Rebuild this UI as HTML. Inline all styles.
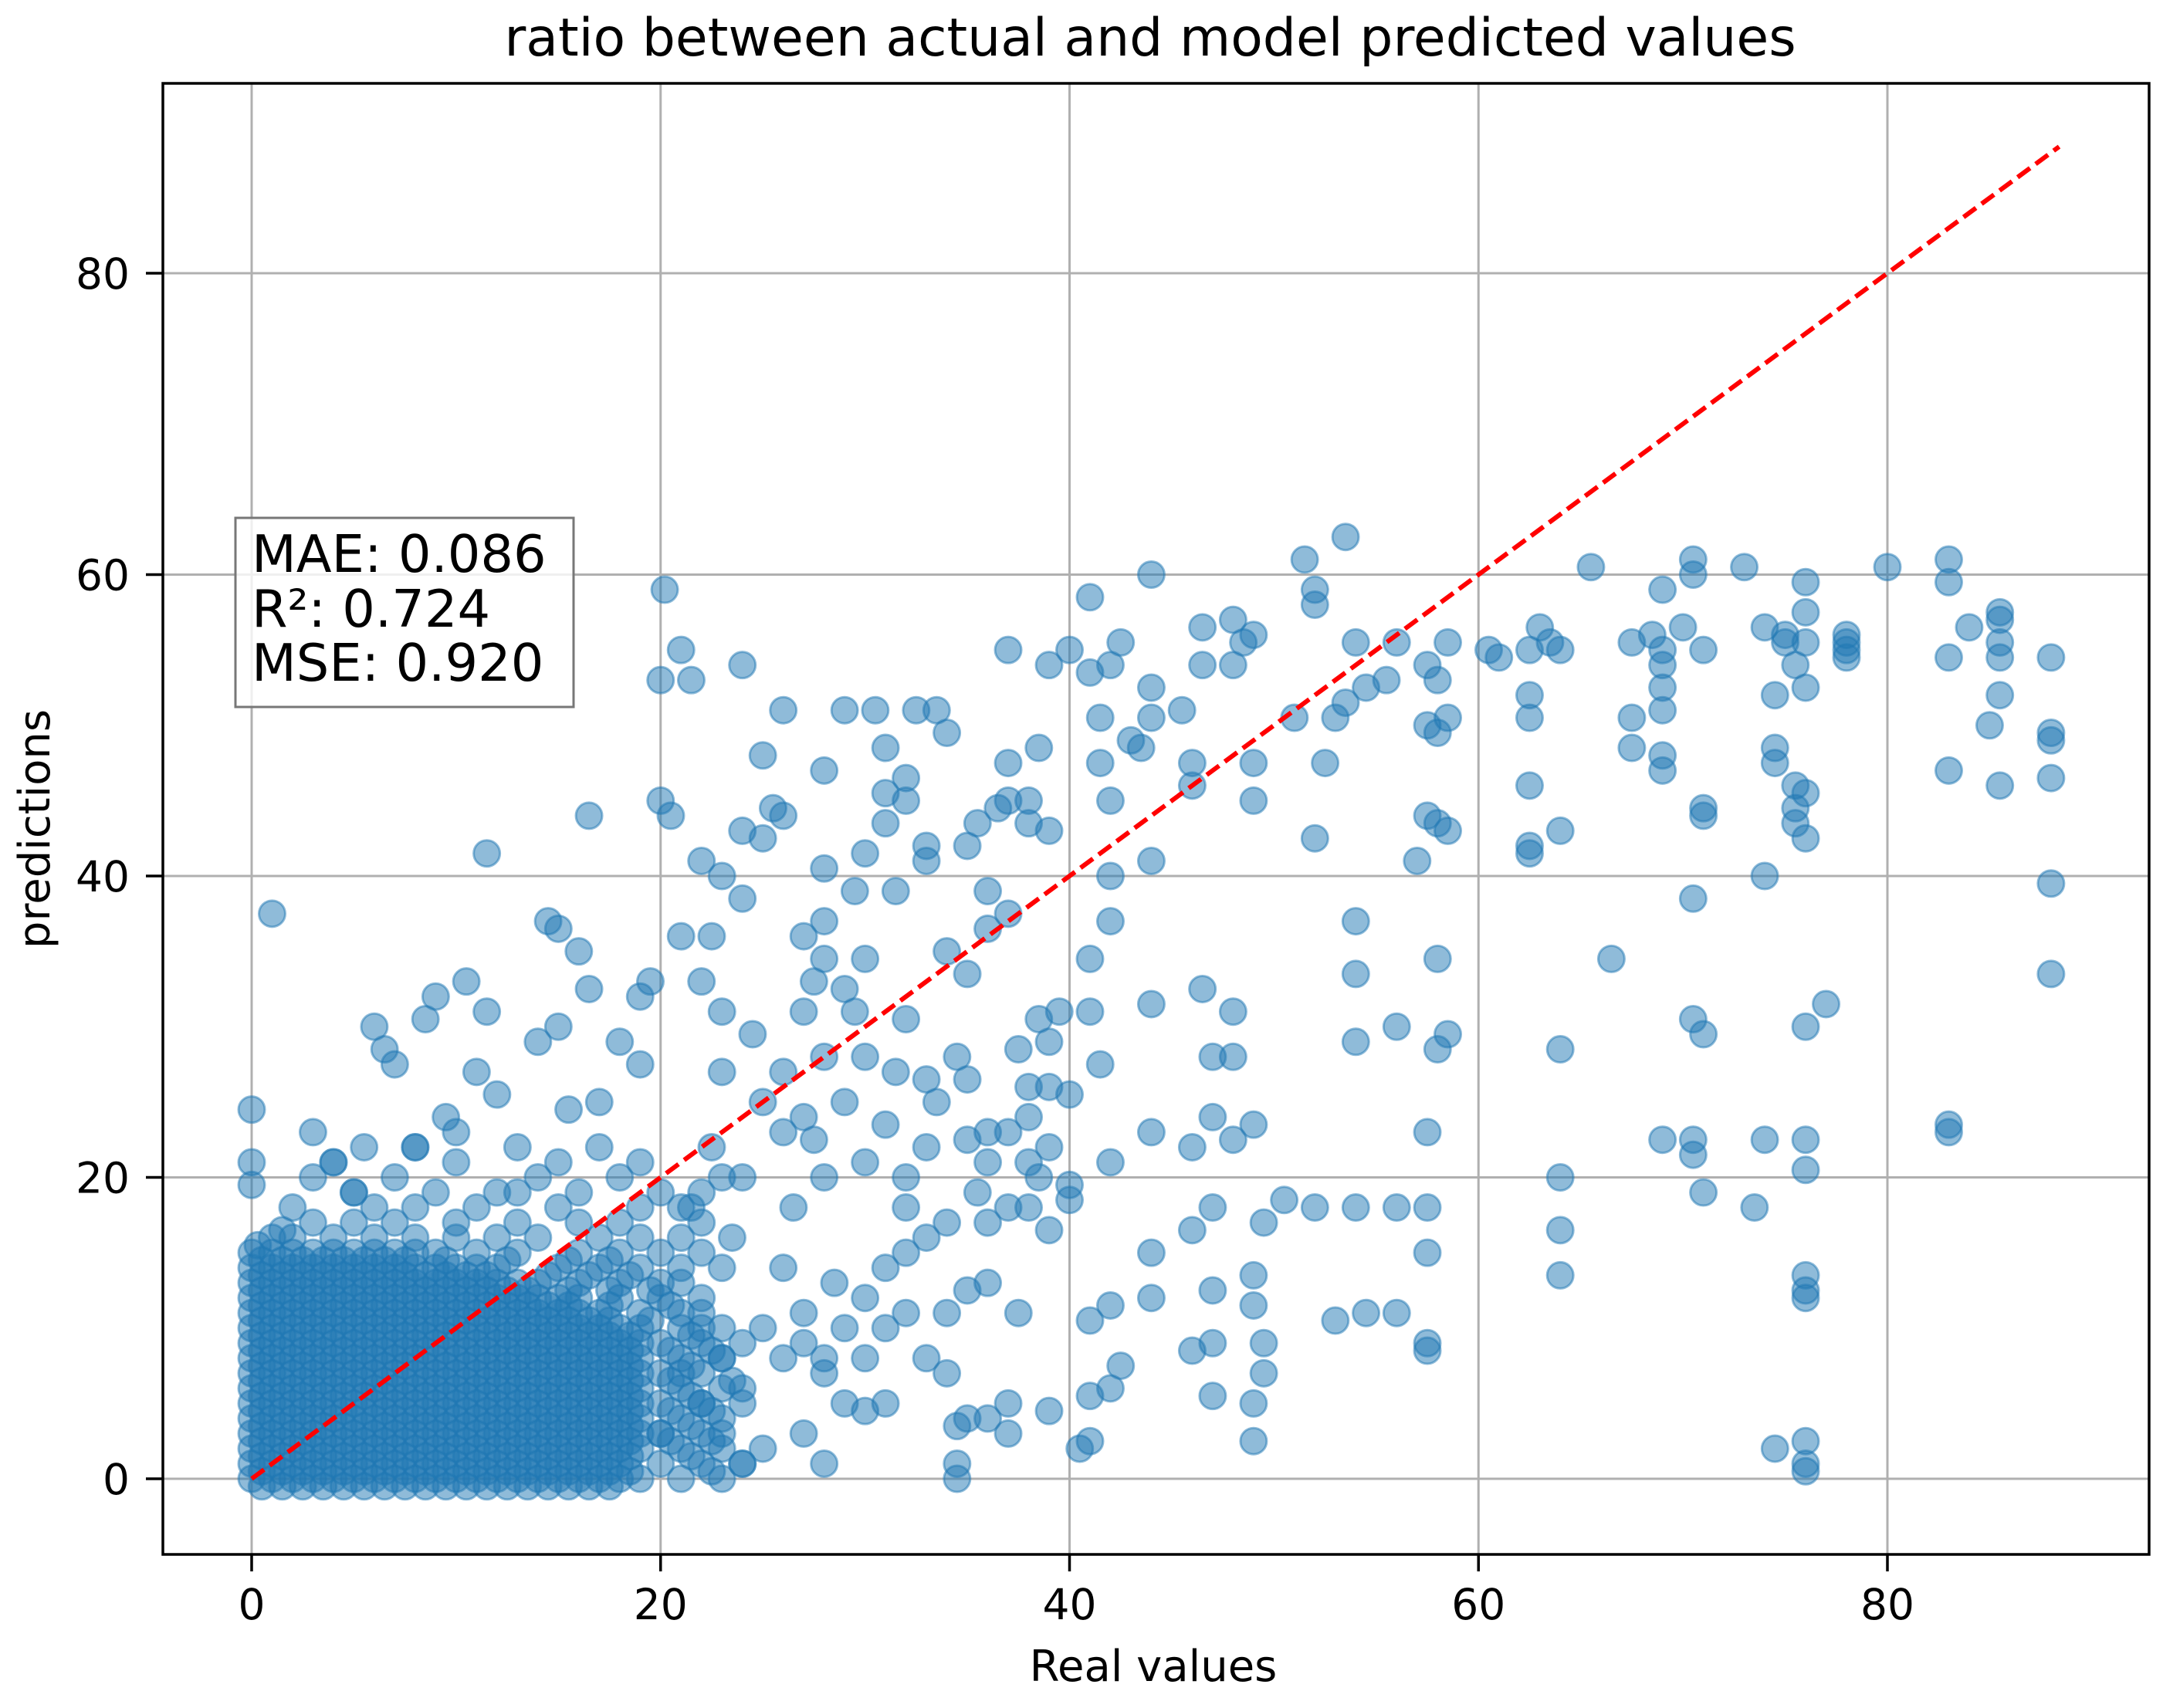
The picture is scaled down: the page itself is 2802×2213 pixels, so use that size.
<!DOCTYPE html>
<html><head><meta charset="utf-8"><style>
html,body{margin:0;padding:0;background:#fff;}
svg{display:block;font-family:"DejaVu Sans","Liberation Sans",sans-serif;}
</style></head><body>
<svg id="chart" width="2802" height="2213" viewBox="0 0 2802 2213" xmlns="http://www.w3.org/2000/svg">
<rect width="2802" height="2213" fill="#fff"/>
<g id="grid"></g>
<g id="pts"></g>
<g id="ref"></g>
<rect x="211" y="108" width="2573" height="1906" fill="none" stroke="#000" stroke-width="3.5"/>
<g id="ticks"></g>
<text x="1490" y="72" font-size="68" text-anchor="middle">ratio between actual and model predicted values</text>
<text x="1494" y="2178" font-size="56" text-anchor="middle">Real values</text>
<text x="64" y="1074" font-size="56" text-anchor="middle" transform="rotate(-90 64 1074)">predictions</text>
<g>
<rect x="305" y="671" width="438" height="245" fill="#fff" fill-opacity="0.8" stroke="#777" stroke-width="3"/>
<text x="326" y="741" font-size="67">MAE: 0.086</text>
<text x="326" y="812" font-size="67">R²: 0.724</text>
<text x="326" y="882" font-size="67">MSE: 0.920</text>
</g>
</svg>
<script>
const xTicks=[0,20,40,60,80];
const yTicks=[0,20,40,60,80];
const refLine=[0,88.4];
const outliers=[[0,24.5],[0,21],[0,19.5],[1,37.5],[0.3,15.5],[1.5,16.5],[3,23],[4,21],[5,19],[5.5,22],[6,30],[6.5,28.5],[7,27.5],[8,22],[8.5,30.5],[9,32],[9.5,24],[10,23],[10.5,33],[11,27],[11.5,41.5],[11.5,31],[12,25.5],[13,19],[14,29],[14.5,37],[15,36.5],[15,30],[15.5,24.5],[16,35],[16.5,44],[16.5,32.5],[17,25],[18,29],[19,27.5],[19,32],[19.5,33],[20,45],[20.2,59],[20,53],[20.5,44],[21,55],[21,36],[21.5,53],[22,41],[22,33],[22.5,36],[23,40],[23,31],[23,27],[24,54],[24,43],[24,38.5],[24.5,29.5],[25,48],[25,42.5],[25.5,44.5],[26,44],[26,23],[26,51],[27,31],[27,36],[27.5,33],[28,47],[28,37],[28,34.5],[28,28],[28,40.5],[29,51],[29,32.5],[29.5,39],[29.5,31],[30,41.5],[30,34.5],[30.5,51],[31,48.5],[31,45.5],[31,43.5],[31.5,39],[32,46.5],[32,45],[32,30.5],[32.5,51],[33,42],[33,41],[33,26.5],[33.5,51],[34,49.5],[34,35],[34.5,28],[35,33.5],[35,26.5],[35,42],[35.5,43.5],[36,39],[36,36.5],[36.5,44.5],[37,47.5],[37,45],[37,55],[37,37.5],[37.5,28.5],[38,43.5],[38,45],[38,24],[38.5,48.5],[38.5,30.5],[38.5,20],[39,43],[39,54],[39,29],[39,26],[39,16.5],[39.5,31],[40,55],[40,25.5],[40,19.5],[41,58.5],[41,53.5],[41,34.5],[41,31],[41.5,50.5],[41.5,47.5],[41.5,27.5],[42,54],[42,45],[42,40],[42,37],[42,21],[42.5,55.5],[43,49],[43.5,48.5],[44,60],[44,52.5],[44,50.5],[44,41],[44,31.5],[44,23],[44,15],[44,12],[45.5,51],[46,46],[46,47.5],[46,22],[46,16.5],[46,8.5],[46.5,54],[46.5,56.5],[46.5,32.5],[47,28],[47,24],[47,18],[47,12.5],[47,9],[47,5.5],[48,57],[48,54],[48,31],[48,28],[48,22.5],[48.5,55.5],[49,56],[49,47.5],[49,45],[49,23.5],[49,13.5],[49,11.5],[49,5],[49,2.5],[49.5,9],[49.5,7],[49.5,17],[50.5,18.5],[51,50.5],[51.5,61],[52,59],[52,58],[52,42.5],[52,18],[52.5,47.5],[53,50.5],[53,10.5],[53.5,62.5],[53.5,51.5],[54,55.5],[54,37],[54,33.5],[54,29],[54,18],[54.5,52.5],[54.5,11],[55.5,53],[56,55.5],[56,30],[56,18],[56,11],[57,41],[57.5,50],[57.5,54],[57.5,44],[57.5,23],[57.5,18],[57.5,15],[57.5,9],[57.5,8.5],[58,53],[58,49.5],[58,43.5],[58,34.5],[58,28.5],[58.5,55.5],[58.5,50.5],[58.5,43],[58.5,29.5],[60.5,55],[61,54.5],[62.5,55],[62.5,52],[62.5,50.5],[62.5,46],[62.5,42],[62.5,41.5],[63,56.5],[63.5,55.5],[64,55],[64,43],[64,28.5],[64,20],[64,16.5],[64,13.5],[65.5,60.5],[66.5,34.5],[67.5,55.5],[67.5,50.5],[67.5,48.5],[68.5,56],[69,59],[69,55],[69,54],[69,52.5],[69,51],[69,48],[69,47],[69,22.5],[70,56.5],[70.5,61],[70.5,60],[70.5,38.5],[70.5,30.5],[70.5,22.5],[70.5,21.5],[71,55],[71,44.5],[71,44],[71,29.5],[71,19],[73,60.5],[73.5,18],[74,56.5],[74,40],[74,22.5],[74.5,48.5],[74.5,47.5],[74.5,52],[74.5,2],[75,55.5],[75,56],[75.5,54],[75.5,46],[75.5,44.5],[75.5,43.5],[76,59.5],[76,57.5],[76,55.5],[76,52.5],[76,45.5],[76,42.5],[76,30],[76,22.5],[76,20.5],[76,13.5],[76,12.5],[76,12],[76,2.5],[76,1],[76,0.5],[77,31.5],[78,56],[78,55.5],[78,55],[78,54.5],[80,60.5],[83,61],[83,59.5],[83,54.5],[83,47],[83,23.5],[83,23],[84,56.5],[85,50],[85.5,57],[85.5,57.5],[85.5,55.5],[85.5,54.5],[85.5,52],[85.5,46],[88,54.5],[88,49.5],[88,49],[88,46.5],[88,39.5],[88,33.5],
[27,11],[27,9],[27,3],[28,8],[28,1],[28,7],[29,10],[29,5],[30,12],[30,8],[30,4.5],[31,14],[31,10],[31,5],[32,11],[32,15],[32,20],[33,16],[33,8],[34,11],[34,7],[34.5,3.5],[34.5,1],[34.5,0],[35,4],[35,12.5],[35.5,19],[36,23],[36,13],[36,17],[36,4],[37,5],[37,3],[37,18],[37.5,11],[38,21],[38,18],[39,4.5],[40,18.5],[40.5,2],[41,10.5],[41,5.5],[41,2.5],[42,11.5],[42,6],[42.5,7.5],[26,14],[26.5,18],[26,27],[27,24],[27.5,22.5],[28,20],[28.5,13],[29,25],[30,21],[30,28],[31,23.5],[31.5,27],[32,18],[33,22],[33.5,25],[34,17],[35,22.5],[36,21],[37,23],[38,26],[39,22],[22,5],[22,10],[23,3],[23,8],[24,1],[24,6],[25,2],[25,10],[26,8],[21,7],[20,3],[24,20],[25,25],[23.5,16],[22.5,22],[21.5,18]];
const blobRows=[
[0,[0,1,2,3,4,5,6,7,8,9,10,11,12,13,14,15,16,17,18,19,21,23]],
[1,[0,1,2,3,4,5,6,7,8,9,10,11,12,13,14,15,16,17,18,20,22,24]],
[2,[0,1,2,3,4,5,6,7,8,9,10,11,12,13,14,15,16,17,18,19,21,23]],
[3,[0,1,2,3,4,5,6,7,8,9,10,11,12,13,14,15,16,17,18,19,20,22]],
[4,[0,1,2,3,4,5,6,7,8,9,10,11,12,13,14,15,16,17,18,19,21,23]],
[5,[0,1,2,3,4,5,6,7,8,9,10,11,12,13,14,15,16,17,18,19,20,22,24]],
[6,[0,1,2,3,4,5,6,7,8,9,10,11,12,13,14,15,16,17,18,19,21,23]],
[7,[0,1,2,3,4,5,6,7,8,9,10,11,12,13,14,15,16,17,18,19,20,22]],
[8,[0,1,2,3,4,5,6,7,8,9,10,11,12,13,14,15,16,17,18,19,21,23]],
[9,[0,1,2,3,4,5,6,7,8,9,10,11,12,13,14,15,16,17,18,19,20,22,24]],
[10,[0,1,2,3,4,5,6,7,8,9,10,11,12,13,14,15,16,17,18,19,21,23]],
[11,[0,1,2,3,4,5,6,7,8,9,10,11,12,13,14,15,16,17,19,21,22]],
[12,[0,1,2,3,4,5,6,7,8,9,10,11,12,13,14,15,16,18,20,22]],
[13,[0,1,2,3,4,5,6,7,8,9,10,11,12,13,14,16,18,20,21]],
[14,[0,1,2,3,4,5,6,7,8,9,10,11,12,15,17,19,21,23]],
[15,[0,1,2,3,4,5,6,7,8,9,11,13,16,18,20,22]],
[16,[1,2,4,6,8,10,12,14,17,19,21]],
[17,[3,5,7,10,13,16,18,22]],
[18,[2,6,8,11,15,19,21]],
[19,[5,9,12,16,20,22]],
[20,[3,7,14,18,23]],
[21,[4,10,15,19]],
[22,[8,13,17]]];
const blobRowsB=[
[-0.5,[0.5,1.5,2.5,3.5,4.5,5.5,6.5,7.5,8.5,9.5,10.5,11.5,12.5,13.5,14.5,15.5,16.5,17.5]],
[0.5,[0.5,1.5,2.5,3.5,4.5,5.5,6.5,7.5,8.5,9.5,10.5,11.5,12.5,13.5,14.5,15.5,16.5,17.5,18.5,22.5]],
[1.5,[0.5,1.5,2.5,3.5,4.5,5.5,6.5,7.5,8.5,9.5,10.5,11.5,12.5,13.5,14.5,15.5,16.5,17.5,18.5,21.5]],
[2.5,[0.5,1.5,2.5,3.5,4.5,5.5,6.5,7.5,8.5,9.5,10.5,11.5,12.5,13.5,14.5,15.5,16.5,17.5,18.5,20.5,22.5]],
[3.5,[0.5,1.5,2.5,3.5,4.5,5.5,6.5,7.5,8.5,9.5,10.5,11.5,12.5,13.5,14.5,15.5,16.5,17.5,18.5,21.5]],
[4.5,[0.5,1.5,2.5,3.5,4.5,5.5,6.5,7.5,8.5,9.5,10.5,11.5,12.5,13.5,14.5,15.5,16.5,17.5,18.5,20.5,22.5]],
[5.5,[0.5,1.5,2.5,3.5,4.5,5.5,6.5,7.5,8.5,9.5,10.5,11.5,12.5,13.5,14.5,15.5,16.5,17.5,18.5,21.5]],
[6.5,[0.5,1.5,2.5,3.5,4.5,5.5,6.5,7.5,8.5,9.5,10.5,11.5,12.5,13.5,14.5,15.5,16.5,17.5,18.5,20.5,23.5]],
[7.5,[0.5,1.5,2.5,3.5,4.5,5.5,6.5,7.5,8.5,9.5,10.5,11.5,12.5,13.5,14.5,15.5,16.5,17.5,18.5,21.5]],
[8.5,[0.5,1.5,2.5,3.5,4.5,5.5,6.5,7.5,8.5,9.5,10.5,11.5,12.5,13.5,14.5,15.5,16.5,17.5,18.5,20.5,22.5]],
[9.5,[0.5,1.5,2.5,3.5,4.5,5.5,6.5,7.5,8.5,9.5,10.5,11.5,12.5,13.5,14.5,15.5,16.5,17.5,18.5,21.5]],
[10.5,[0.5,1.5,2.5,3.5,4.5,5.5,6.5,7.5,8.5,9.5,10.5,11.5,12.5,13.5,14.5,15.5,16.5,17.5,19.5]],
[11.5,[0.5,1.5,2.5,3.5,4.5,5.5,6.5,7.5,8.5,9.5,10.5,11.5,12.5,13.5,14.5,15.5,17.5,20.5]],
[12.5,[0.5,1.5,2.5,3.5,4.5,5.5,6.5,7.5,8.5,9.5,10.5,11.5,12.5,13.5,15.5,17.5,19.5]],
[13.5,[0.5,1.5,2.5,3.5,4.5,5.5,6.5,7.5,8.5,9.5,10.5,11.5,14.5,16.5,18.5]],
[14.5,[0.5,1.5,2.5,3.5,4.5,5.5,6.5,7.5,9.5,12.5,15.5,17.5]]];

const NS="http://www.w3.org/2000/svg";
const X0=326,XS=(2445-326)/80,Y0=1916,YS=(1916-354)/80;
function sx(v){return X0+v*XS;}
function sy(v){return Y0-v*YS;}
function mk(tag,attrs,parent){const e=document.createElementNS(NS,tag);for(const k in attrs)e.setAttribute(k,attrs[k]);parent.appendChild(e);return e;}
const grid=document.getElementById('grid'),ticks=document.getElementById('ticks'),pts=document.getElementById('pts'),ref=document.getElementById('ref');
xTicks.forEach(t=>{
  const g=mk('line',{x1:sx(t),x2:sx(t),y1:108,y2:2014,stroke:'#b0b0b0','stroke-width':3},grid);
  
  
  const tk=mk('line',{x1:sx(t),x2:sx(t),y1:2014,y2:2036,stroke:'#000','stroke-width':3.5},ticks);
  
  
  const tx=mk('text',{x:sx(t),y:2098,'font-size':55,'text-anchor':'middle'},ticks);
  tx.textContent=t;
  
  
});
yTicks.forEach(t=>{
  const g=mk('line',{x1:211,x2:2784,y1:sy(t),y2:sy(t),stroke:'#b0b0b0','stroke-width':3},grid);
  
  
  const tk=mk('line',{x1:189,x2:211,y1:sy(t),y2:sy(t),stroke:'#000','stroke-width':3.5},ticks);
  
  
  const tx=mk('text',{x:168,y:sy(t)+20,'font-size':55,'text-anchor':'end'},ticks);
  tx.textContent=t;
  
  
});
function dot(x,y){
  const c=mk('circle',{cx:sx(x),cy:sy(y),r:17,fill:'#1f77b4','fill-opacity':0.5,stroke:'#1f77b4','stroke-opacity':0.5,'stroke-width':3},pts);
  
  
}
blobRows.forEach(r=>r[1].forEach(x=>dot(x,r[0])));
blobRowsB.forEach(r=>r[1].forEach(x=>dot(x,r[0])));
outliers.forEach(p=>dot(p[0],p[1]));
const l=mk('line',{x1:sx(refLine[0]),y1:sy(refLine[0]),x2:sx(refLine[1]),y2:sy(refLine[1]),stroke:'#ff0000','stroke-width':6,'stroke-dasharray':'20 9'},ref);


</script>
</body></html>
